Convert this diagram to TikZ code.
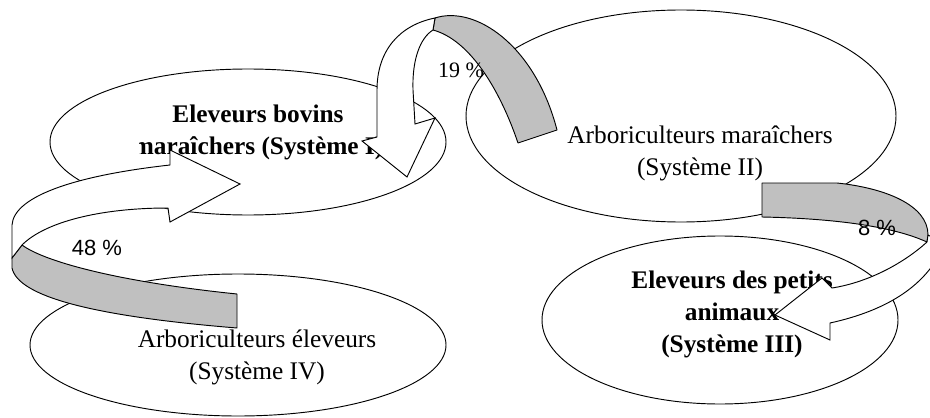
\documentclass[tikz,border=0pt]{standalone}
\usepackage{fontspec}
\setmainfont{Liberation Serif}
\newfontfamily\labelsans{Liberation Sans}
\usetikzlibrary{shapes.geometric}
\definecolor{bandgray}{RGB}{192,192,192}
\begin{document}
\begin{tikzpicture}[x=0.75pt,y=-0.75pt,
  sysell/.style={draw=black,fill=white,ellipse,inner sep=0pt,outer sep=0pt,line width=0.7pt},
  systxt/.style={align=center,font=\fontsize{19}{24}\selectfont,inner sep=0pt},
  sysbold/.style={align=center,font=\fontsize{19}{24}\selectfont\bfseries,inner sep=0pt},
  backband/.style={draw=black,fill=bandgray,line width=0.7pt,line join=round},
  frontband/.style={draw=black,fill=white,line width=0.7pt,line join=miter},
  pct/.style={font=\fontsize{16.5}{20}\selectfont\labelsans,inner sep=0pt},
  pctserif/.style={font=\fontsize{16.5}{20}\selectfont,inner sep=0pt}
]
\useasboundingbox (0,0) rectangle (930,417);
\clip (0,0) rectangle (930,417);

% systems
\node[sysell,minimum width=297pt,minimum height=109.5pt] (sysI) at (248,142) {};
\node[sysell,minimum width=322.5pt,minimum height=159pt] (sysII) at (681,116) {};
\node[sysell,minimum width=267pt,minimum height=126pt] (sysIII) at (720,320) {};
\node[sysell,minimum width=312pt,minimum height=106.5pt] (sysIV) at (238,345) {};

\begin{scope}
\clip (139,90) rectangle (450,175);
\node[sysbold] (txtI) at (258,132) {Eleveurs bovins\\maraîchers (Système I)};
\end{scope}
\node[systxt] (txtII) at (700,153) {Arboriculteurs maraîchers\\(Système II)};
\node[sysbold] (txtIII) at (732,314) {Eleveurs des petits\\animaux\\(Système III)};
\node[systxt] (txtIV) at (257,357) {Arboriculteurs éleveurs\\(Système IV)};

% 48 % arrow (IV -> I)
\path[backband] (22,245) .. controls (45,262) and (120,282) .. (237,294) -- (237,328)
  .. controls (90,316) and (18,296) .. (12,268) -- (12,258) -- cycle;
\path[frontband] (12,258) -- (12,225) .. controls (14,195) and (80,175) .. (170,165)
  -- (170,150) -- (240,184) -- (170,222) -- (168,208)
  .. controls (100,208) and (45,222) .. (22,245) -- cycle;

% 19 % arrow (II -> I)
\path[backband] (435,18) .. controls (475,5) and (535,45) .. (557,130) -- (518,143)
  .. controls (500,90) and (470,40) .. (433,30) -- cycle;
\path[frontband] (435,18) .. controls (400,25) and (377,50) .. (377,90) -- (377,137)
  -- (362,141) -- (407,177) -- (435,118) -- (415,124) -- (413,90)
  .. controls (412,60) and (420,38) .. (433,30) -- cycle;

% 8 % arrow (II -> III)
\path[backband] (762,183) -- (837,183) .. controls (885,188) and (928,205) .. (928,235)
  -- (927,242) .. controls (905,232) and (860,219) .. (762,217) -- cycle;
\path[frontband] (927,242) .. controls (905,262) and (870,282) .. (832,288) -- (822,278)
  -- (775,315) -- (830,340) -- (830,323) .. controls (880,312) and (915,292) .. (935,262)
  .. controls (942,250) and (936,238) .. (928,235) -- cycle;

% labels
\node[pct] (p48) at (97,248) {48 \%};
\node[pctserif] (p19) at (461,70) {19 \%};
\node[pct] (p8) at (877,228) {8 \%};
\end{tikzpicture}
\end{document}
